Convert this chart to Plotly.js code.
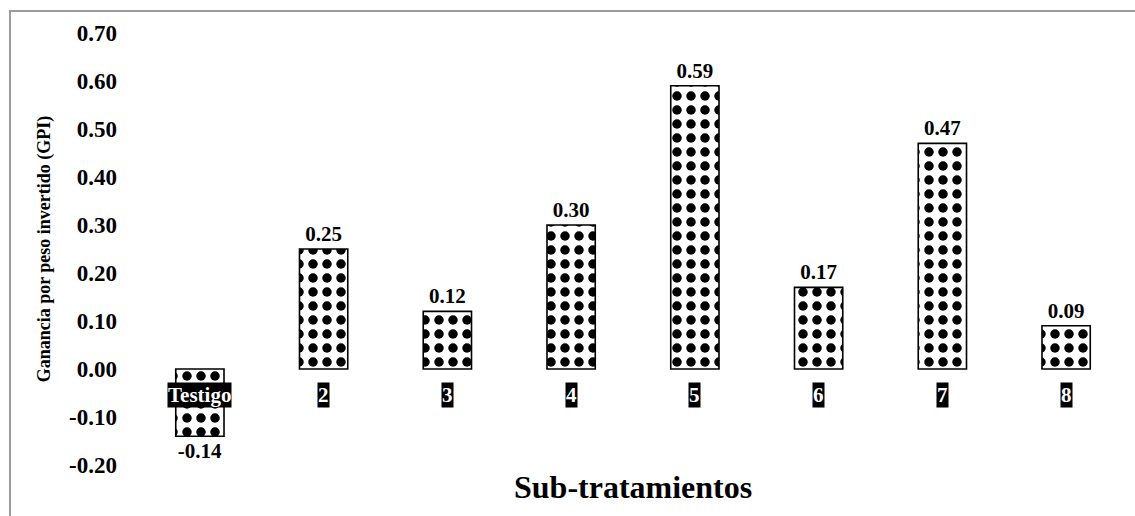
<!DOCTYPE html>
<html>
<head>
<meta charset="utf-8">
<script src="https://cdn.plot.ly/plotly-3.0.1.min.js"></script>
<style>
  html, body { margin: 0; padding: 0; background: #fff; }
  #chart { width: 1135px; height: 516px; }
</style>
</head>
<body>
<div id="chart"></div>
<script>
// Sub-tratamientos and their ganancia por peso invertido (GPI)
const categories = ['Testigo', '2', '3', '4', '5', '6', '7', '8'];
const gpiValues = [-0.14, 0.25, 0.12, 0.30, 0.59, 0.17, 0.47, 0.09];
const yTickValues = [-0.2, -0.1, 0, 0.1, 0.2, 0.3, 0.4, 0.5, 0.6, 0.7];
const yTickLabels = ['-0.20', '-0.10', '0.00', '0.10', '0.20', '0.30', '0.40', '0.50', '0.60', '0.70'];

const serif = 'Liberation Serif, Times New Roman, serif';

const bars = {
  type: 'bar',
  x: categories,
  y: gpiValues,
  text: gpiValues.map(v => v.toFixed(2)),
  textposition: 'outside',
  textfont: { family: serif, size: 21, color: '#000', weight: 'bold' },
  cliponaxis: false,
  marker: {
    color: 'white',
    line: { color: '#000', width: 1.6 },
    pattern: { shape: '.', fgcolor: '#000', bgcolor: '#fff', size: 14, solidity: 0.36 }
  },
  hoverinfo: 'x+y'
};

// Category labels: white text in black boxes, just under the zero line
// (positioned by category index so that '2', '3', ... are not read as numbers)
const categoryLabels = categories.map((c, i) => ({
  x: i, y: 0, xref: 'x', yref: 'y',
  text: c, showarrow: false,
  yanchor: 'top', yshift: -13,
  bgcolor: '#000', borderpad: 0,
  font: { family: serif, size: 21, color: '#fff', weight: 'bold' }
}));

const layout = {
  width: 1135, height: 516,
  margin: { l: 138, r: 7, t: 33, b: 51 },
  paper_bgcolor: '#fff', plot_bgcolor: '#fff',
  showlegend: false,
  bargap: 0.61,
  xaxis: {
    type: 'category',
    showticklabels: false, ticks: '',
    showline: false, showgrid: false, zeroline: false
  },
  yaxis: {
    range: [-0.2, 0.7],
    tickvals: yTickValues, ticktext: yTickLabels,
    ticks: '', ticklabelstandoff: 20,
    showline: false, showgrid: false, zeroline: false,
    tickfont: { family: serif, size: 23, color: '#000', weight: 'bold' },
    title: {
      text: 'Ganancia por peso invertido (GPI)',
      font: { family: serif, size: 18, color: '#000', weight: 'bold' },
      standoff: 13
    }
  },
  annotations: categoryLabels.concat([{
    x: 0.5, y: 0, xref: 'paper', yref: 'paper',
    text: 'Sub-tratamientos', showarrow: false,
    yanchor: 'top', yshift: -2,
    font: { family: serif, size: 32, color: '#000', weight: 'bold' }
  }]),
  shapes: [{
    type: 'rect', xref: 'paper', yref: 'paper',
    x0: -0.1293, x1: 1.05, y0: -0.3, y1: 1.0509,
    line: { color: '#9c9c9c', width: 2 }, fillcolor: 'rgba(0,0,0,0)',
    layer: 'below'
  }]
};

Plotly.newPlot('chart', [bars], layout, { displayModeBar: false, staticPlot: true });
</script>
</body>
</html>
